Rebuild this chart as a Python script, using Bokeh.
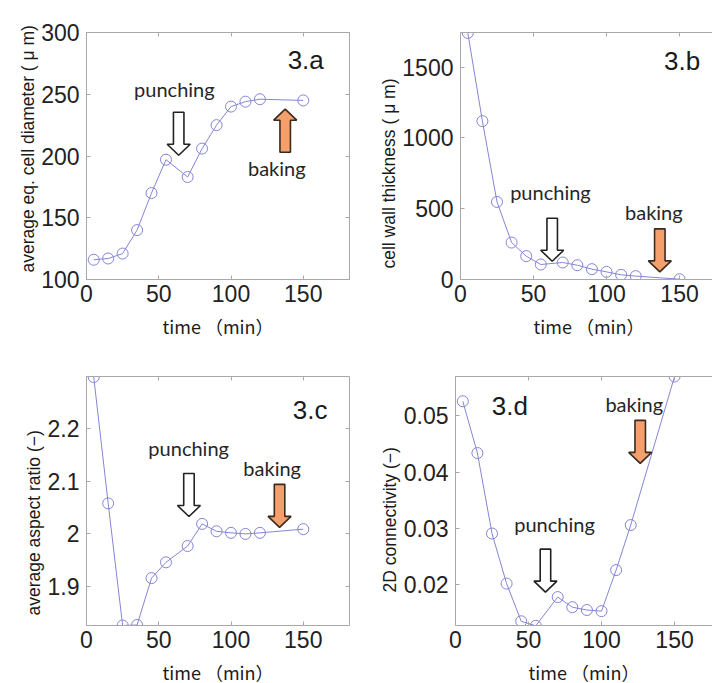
from bokeh.plotting import figure
from bokeh.models import LinearAxis, FixedTicker, Title, CustomJSTickFormatter, Range1d
from bokeh.layouts import column, row
from bokeh.core.properties import value
from bokeh.embed import file_html
from bokeh.resources import INLINE

# ---------------- data ----------------
time_min = [5, 15, 25, 35, 45, 55, 70, 80, 90, 100, 110, 120, 150]
diameter = [116, 117, 121, 140, 170, 197, 183, 206, 225, 240, 244, 246, 245]
wall_thickness = [1742, 1119, 548, 261, 165, 106, 120, 101, 73, 54, 33, 24, 2]
aspect_ratio = [2.298, 2.058, 1.826, 1.827, 1.916, 1.946, 1.977, 2.019,
                2.005, 2.002, 2.000, 2.002, 2.009]
connectivity = [0.0526, 0.0434, 0.0291, 0.0202, 0.0135, 0.0127, 0.0178,
                0.0160, 0.0155, 0.0153, 0.0226, 0.0306, 0.0570]

x_ticks = [0, 50, 100, 150]
diameter_ticks = [100, 150, 200, 250, 300]
wall_ticks = [0, 500, 1000, 1500]
aspect_ticks = [1.9, 2.0, 2.1, 2.2]
connectivity_ticks = [0.02, 0.03, 0.04, 0.05]

panel_names = ["3.a", "3.b", "3.c", "3.d"]
y_labels = ["average eq. cell diameter ( \u03bc m)",
            "cell wall thickness ( \u03bc m)",
            "average aspect ratio (\u2212)",
            "2D connectivity (\u2212)"]
x_label = "time \uff08min\uff09"

# ---------------- styles ----------------
LINE = "#8585d6"
BOX = "#a8a8a8"
TXT = "#1a1a1a"
ORANGE = "#f5a06c"
SANS = "Liberation Sans"
NOTE = "Lato"
JP = "Noto Sans CJK JP"

fmt = CustomJSTickFormatter(code="return String(+tick.toFixed(4));")
blank = CustomJSTickFormatter(code="return '';")


def style_axis(ax, ticks, labels=True):
    ax.ticker = FixedTicker(ticks=ticks)
    ax.axis_line_color = BOX
    ax.major_tick_line_color = BOX
    ax.major_tick_in = 4
    ax.major_tick_out = 0
    ax.minor_tick_line_color = None
    ax.major_label_text_font = SANS
    ax.major_label_text_color = "#222222"
    ax.major_label_text_font_size = "23px"
    if labels:
        ax.formatter = fmt
    else:
        ax.formatter = blank
        ax.major_label_standoff = 0


def scales(p):
    sx = p.frame_width / (p.x_range.end - p.x_range.start)
    sy = p.frame_height / (p.y_range.end - p.y_range.start)
    return sx, sy


def block_arrow(p, xc, y_tip, up, fill, line):
    sx, sy = scales(p)
    shaft = 10.5 / 2 / sx
    head = 23 / 2 / sx
    hl = 11 / sy
    length = 43 / sy
    d = -1 if up else 1
    y_tail = y_tip + d * length
    y_head = y_tip + d * hl
    xs = [xc - shaft, xc + shaft, xc + shaft, xc + head, xc, xc - head, xc - shaft]
    ys = [y_tail, y_tail, y_head, y_head, y_tip, y_head, y_head]
    p.patch(xs, ys, fill_color=fill, line_color=line, line_width=1.6)


def make_panel(yvals, yrange, xend, ticks, ylabel, label_offset, name, name_xy,
               punch_xy, bake_xy, punch_arrow, bake_arrow, bake_up,
               mb_left, mb_right, mb_top, mb_bottom, fw, fh, right_axis):
    p = figure(frame_width=fw, frame_height=fh,
               width=mb_left + fw + mb_right, height=mb_top + fh + mb_bottom,
               x_range=Range1d(0, xend), y_range=Range1d(*yrange),
               output_backend="svg", toolbar_location=None,
               min_border_left=mb_left, min_border_right=mb_right,
               min_border_top=mb_top, min_border_bottom=mb_bottom,
               x_axis_type=None, y_axis_type=None)
    p.outline_line_color = None
    p.grid.visible = False
    p.background_fill_color = "white"
    p.border_fill_color = "white"

    xb = LinearAxis()
    style_axis(xb, x_ticks)
    xb.major_label_standoff = 5
    xb.axis_label = x_label
    xb.axis_label_text_font = JP
    xb.axis_label_text_font_size = "18px"
    xb.axis_label_text_font_style = "normal"
    xb.axis_label_text_color = TXT
    xb.axis_label_standoff = 8
    p.add_layout(xb, "below")

    yl = LinearAxis()
    style_axis(yl, ticks)
    yl.major_label_standoff = 7
    p.add_layout(yl, "left")

    xt = LinearAxis()
    style_axis(xt, x_ticks, labels=False)
    p.add_layout(xt, "above")
    if right_axis:
        yr = LinearAxis()
        style_axis(yr, ticks, labels=False)
        p.add_layout(yr, "right")

    p.add_layout(Title(text=ylabel, align="left", offset=label_offset,
                       text_font=SANS, text_font_size="17.5px",
                       text_font_style="normal", text_color=TXT,
                       standoff=2), "left")

    p.line(time_min, yvals, line_color=LINE, line_width=1)
    p.scatter(time_min, yvals, marker="circle", size=11, fill_color=None,
              line_color=LINE, line_width=1)

    block_arrow(p, punch_arrow[0], punch_arrow[1], False, "white", "#222222")
    block_arrow(p, bake_arrow[0], bake_arrow[1], bake_up, ORANGE, "#3b2a1e")

    sx, sy = scales(p)
    lift = 8 / sy
    p.text([name_xy[0]], [name_xy[1] + lift], text=[name], text_font=value(SANS),
           text_font_size="26px", text_align="center",
           text_baseline="alphabetic", text_color=TXT)
    p.text([punch_xy[0], bake_xy[0]], [punch_xy[1] + lift, bake_xy[1] + lift],
           text=["punching", "baking"], text_font=value(NOTE),
           text_font_size="20px", text_align="center",
           text_baseline="alphabetic", text_color="#262626")
    return p


pa = make_panel(diameter, (100, 300), 182, diameter_ticks, y_labels[0], 7,
                panel_names[0], (151.7, 270.9), (60.8, 247.9), (131.7, 183.9),
                (63.8, 200.6), (137.5, 237.9), True,
                86, 26, 32, 61, 263, 247, True)
pb = make_panel(wall_thickness, (0, 1745), 176, wall_ticks, y_labels[1], 11,
                panel_names[1], (151.8, 1488), (61.6, 559), (132.4, 418),
                (62.8, 129), (136.5, 54), False,
                80, 0, 32, 61, 257, 247, False)
pc = make_panel(aspect_ratio, (1.826, 2.299), 182, aspect_ticks, y_labels[2], 10,
                panel_names[2], (154.8, 2.221), (70.7, 2.148), (128.5, 2.110),
                (70.9, 2.033), (133.6, 2.0124), False,
                86, 26, 35, 59, 263, 249, True)
pd_ = make_panel(connectivity, (0.01275, 0.0570), 176, connectivity_ticks,
                 y_labels[3], 33,
                 panel_names[3], (37.2, 0.05036), (67.8, 0.02938), (122.4, 0.05077),
                 (61.6, 0.01868), (126.5, 0.04157), False,
                 80, 0, 35, 59, 257, 249, False)

layout = column(row(pa, pb), row(pc, pd_))
open("out.html", "w").write(file_html(layout, INLINE))
